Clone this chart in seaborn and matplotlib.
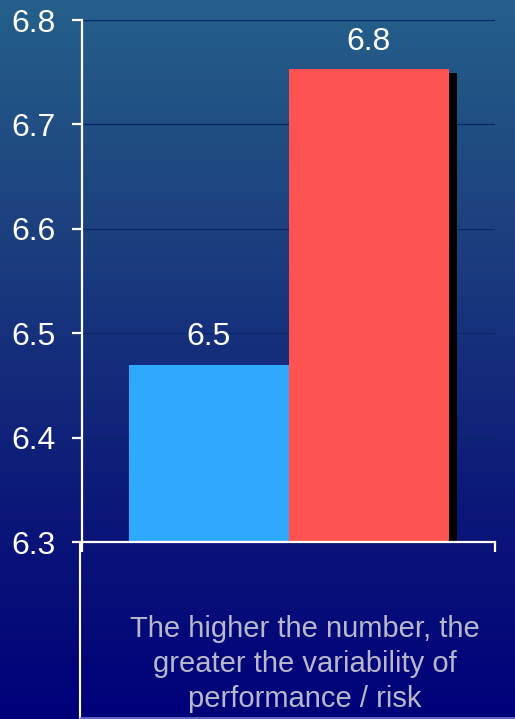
import numpy as np
import pandas as pd
import matplotlib
matplotlib.use("Agg")
import matplotlib.pyplot as plt
import matplotlib.patheffects as pe
from matplotlib.colors import LinearSegmentedColormap
from matplotlib.lines import Line2D
import seaborn as sns

# ---- data ----
categories = ["Group A", "Group B"]
values = [6.47, 6.753]
bar_colors = ["#2EA9FC", "#FF5252"]
y_ticks = [6.3, 6.4, 6.5, 6.6, 6.7, 6.8]
note_text = "The higher the number, the\ngreater the variability of\nperformance / risk"

sns.set_theme(style="white")
plt.rcParams["font.family"] = ["Liberation Sans", "DejaVu Sans"]

W, H = 515, 719
fig = plt.figure(figsize=(W / 100, H / 100), dpi=100)

# background gradient
bg = fig.add_axes([0, 0, 1, 1], zorder=-10)
cmap = LinearSegmentedColormap.from_list(
    "bg", [(0.0, "#25608A"), (0.33, "#1C3F7E"), (0.7, "#0C1878"), (1.0, "#00007A")])
grad = np.linspace(0, 1, 256).reshape(-1, 1)
bg.imshow(grad, aspect="auto", cmap=cmap, extent=[0, 1, 0, 1], origin="upper")
bg.set_axis_off()

ax = fig.add_axes([82 / W, 1 - 542 / H, (495 - 82) / W, (542 - 20) / H])
ax.set_facecolor("none")

df = pd.DataFrame({"category": categories, "value": values})
sns.barplot(data=df, x="category", y="value", hue="category", palette=bar_colors,
            width=1.0, legend=False, ax=ax, zorder=3, saturation=1)

for i, p in enumerate(ax.patches):
    p.set_edgecolor("none")
    if i == 1:
        p.set_path_effects([pe.SimplePatchShadow(offset=(5.8, -2.9), shadow_rgbFace="black",
                                                  alpha=1.0), pe.Normal()])
    ax.annotate(f"{values[i]:.1f}", (p.get_x() + p.get_width() / 2, p.get_height()),
                xytext=(0, 19.5), textcoords="offset points", ha="center", va="center",
                color="white", fontsize=23)

ax.set_ylim(6.3, 6.8)
ax.set_xlim(-0.794, 1.79)
ax.set_yticks(y_ticks)
ax.set_yticklabels([f"{t:.1f}" for t in y_ticks])
ax.set_xticks(ax.get_xlim())
ax.set_xticklabels(["", ""])
ax.set_xlabel("")
ax.set_ylabel("")

for t in y_ticks[1:]:
    ax.axhline(t, color="#08286A", lw=1.0, zorder=1)

for s in ["top", "right"]:
    ax.spines[s].set_visible(False)
for s in ["left", "bottom"]:
    ax.spines[s].set_color("white")
    ax.spines[s].set_linewidth(1.6)
    ax.spines[s].set_zorder(5)

ax.tick_params(axis="y", colors="white", labelsize=23, length=7, width=1.6, pad=12,
               direction="out", left=True)
ax.tick_params(axis="x", colors="white", length=7, width=1.6, direction="out", bottom=True)

# box below chart
fig.add_artist(Line2D([80 / W, 80 / W], [0, 1 - 542 / H], color="white", lw=1.5))
fig.add_artist(Line2D([80 / W, 1], [1.5 / H, 1.5 / H], color="#6E78C8", lw=1.2))

fig.text(305 / W, 1 - 664 / H, note_text, ha="center", va="center",
         color="#B8B8CA", fontsize=21, linespacing=1.33)

fig.savefig("out.png", dpi=100)
